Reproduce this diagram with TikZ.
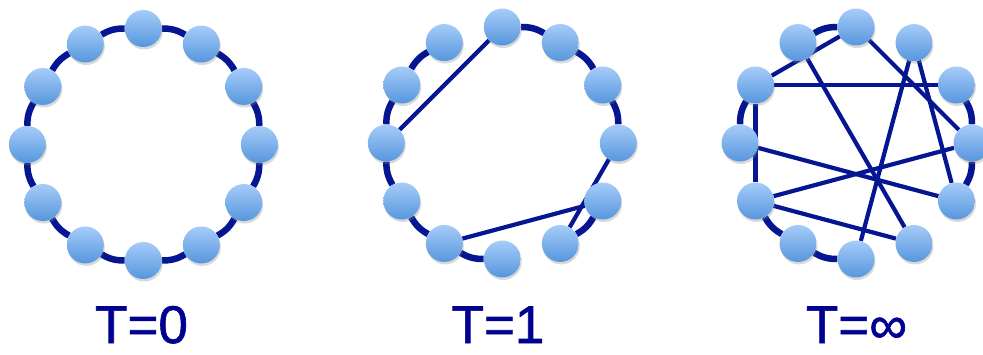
\documentclass[tikz,border=0pt]{standalone}
\usepackage{fontspec}
\setmainfont{Liberation Sans}
\newfontfamily\capfont{Liberation Sans}[FakeBold=1.2]
\usetikzlibrary{shadows,backgrounds}
\definecolor{edgeblue}{RGB}{6,22,146}
\definecolor{textblue}{RGB}{0,0,145}
\definecolor{nodetop}{RGB}{166,204,249}
\definecolor{nodebot}{RGB}{86,150,221}

\begin{document}
\begin{tikzpicture}[x=1pt,y=1pt,
	vertex/.style={circle, minimum size=37pt, inner sep=0pt, top color=nodetop, bottom color=nodebot, drop shadow={shadow xshift=1pt, shadow yshift=-2.5pt, opacity=0.3}},
	ring/.style={edgeblue, line width=6.5pt, bend left=15},
	link/.style={edgeblue, line width=4.2pt},
	caption/.style={textblue, inner sep=0pt, font=\capfont\fontsize{53}{60}\selectfont, anchor=base}]
	\clip (0,0) rectangle (983,354);
	% three graphs, node i sits at angle 90-30i
	\foreach \g/\cx/\cy in {a/143.3/209.5, b/502.3/211, c/856/211} {
		\foreach \i in {0,...,11} {\node[vertex] (\g\i) at ([shift={(\cx,\cy)}]90-30*\i:116) {};}
	}
	\begin{scope}[on background layer]
		% T=0: regular ring
		\foreach \i/\j in {0/1,1/2,2/3,3/4,4/5,5/6,6/7,7/8,8/9,9/10,10/11,11/0} \draw[ring] (a\i) to (a\j);
		% T=1
		\foreach \i/\j in {0/1,1/2,2/3,4/5,6/7,7/8,8/9,9/10,10/11} \draw[ring] (b\i) to (b\j);
		\foreach \i/\j in {0/9,3/5,7/4} \draw[link] (b\i) -- (b\j);
		% T=infinity
		\foreach \i/\j in {11/0,9/10,7/8,6/7,2/3,3/4} \draw[ring] (c\i) to (c\j);
		\foreach \i/\j in {0/10,10/2,10/8,11/5,0/3,1/6,1/4,9/4,8/3,8/5} \draw[link] (c\i) -- (c\j);
	\end{scope}
	\node[caption] (t0) at (141.5,11) {T=0};
	\node[caption] (t1) at (498,11) {T=1};
	\node[caption] (tinf) at (856.5,11) {T=∞};
\end{tikzpicture}
\end{document}
